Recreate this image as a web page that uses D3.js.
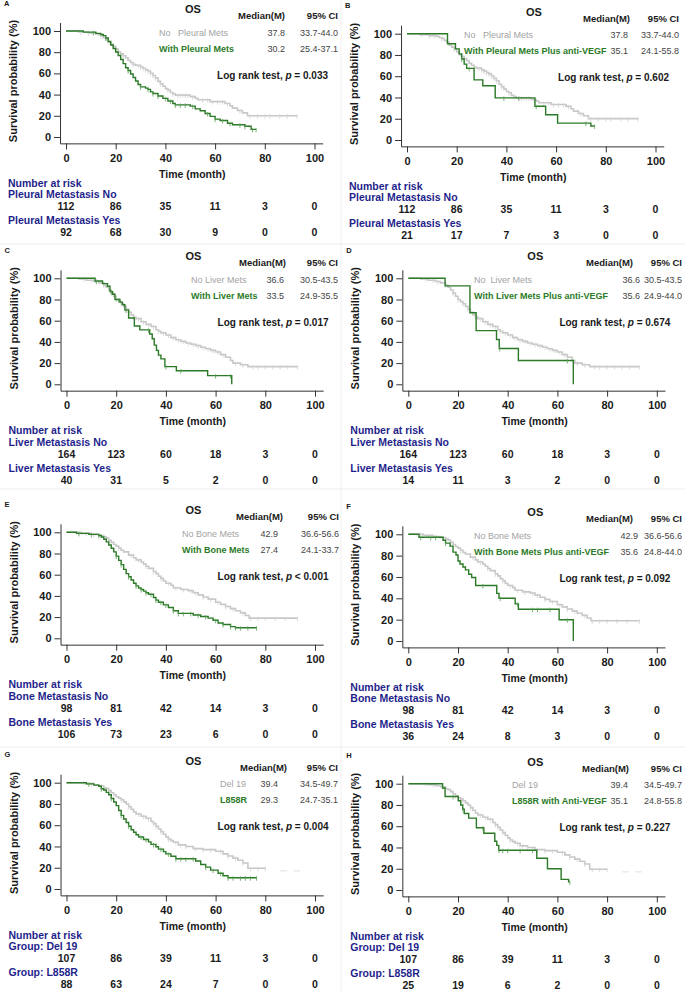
<!DOCTYPE html>
<html>
<head>
<meta charset="utf-8">
<script src="https://cdn.jsdelivr.net/npm/d3@7"></script>
<style>
  body { margin: 0; background: #fff; }
  svg text { font-family: "Liberation Sans", Arial, sans-serif; }
</style>
</head>
<body>
<div id="chart"></div>
<script>
(function() {
    "use strict";

    // ---- data ----
    const timeTicks = [0, 20, 40, 60, 80, 100];
    const survTicks = [0, 20, 40, 60, 80, 100];
    const panelLetters = ["A", "B", "C", "D", "E", "F", "G", "H"];

    const refLabels = ["No   Pleural Mets", "No   Pleural Mets", "No Liver Mets", "No  Liver Mets",
                       "No Bone Mets", "No Bone Mets", "Del 19", "Del 19"];
    const cmpLabels = ["With Pleural Mets", "With Pleural Mets Plus anti-VEGF", "With Liver Mets",
                       "With Liver Mets Plus anti-VEGF", "With Bone Mets", "With Bone Mets Plus anti-VEGF",
                       "L858R", "L858R with Anti-VEGF"];
    const refMedians = ["37.8", "37.8", "36.6", "36.6", "42.9", "42.9", "39.4", "39.4"];
    const refCIs = ["33.7-44.0", "33.7-44.0", "30.5-43.5", "30.5-43.5", "36.6-56.6", "36.6-56.6", "34.5-49.7", "34.5-49.7"];
    const cmpMedians = ["30.2", "35.1", "33.5", "35.6", "27.4", "35.6", "29.3", "35.1"];
    const cmpCIs = ["25.4-37.1", "24.1-55.8", "24.9-35.5", "24.9-44.0", "24.1-33.7", "24.8-44.0", "24.7-35.1", "24.8-55.8"];
    const pValues = ["= 0.033", "= 0.602", "= 0.017", "= 0.674", "< 0.001", "= 0.092", "= 0.004", "= 0.227"];

    const riskRefLabels = ["Pleural Metastasis No", "Pleural Metastasis No", "Liver Metastasis No", "Liver Metastasis No",
                           "Bone Metastasis No", "Bone Metastasis No", "Group: Del 19", "Group: Del 19"];
    const riskCmpLabels = ["Pleural Metastasis Yes", "Pleural Metastasis Yes", "Liver Metastasis Yes", "Liver Metastasis Yes",
                           "Bone Metastasis Yes", "Bone Metastasis Yes", "Group: L858R", "Group: L858R"];
    const riskRef = [[112, 86, 35, 11, 3, 0], [112, 86, 35, 11, 3, 0], [164, 123, 60, 18, 3, 0], [164, 123, 60, 18, 3, 0],
                     [98, 81, 42, 14, 3, 0], [98, 81, 42, 14, 3, 0], [107, 86, 39, 11, 3, 0], [107, 86, 39, 11, 3, 0]];
    const riskCmp = [[92, 68, 30, 9, 0, 0], [21, 17, 7, 3, 0, 0], [40, 31, 5, 2, 0, 0], [14, 11, 3, 2, 0, 0],
                     [106, 73, 23, 6, 0, 0], [36, 24, 8, 3, 0, 0], [88, 63, 24, 7, 0, 0], [25, 19, 6, 2, 0, 0]];

    // survival curves: [month, survival %] after each drop
    const noPleural = [[0,100],[5,99.1],[9,98.2],[12,97.3],[13,96.4],[14,95.5],[15,93.7],[16,91.9],[17,89.2],[18,87.4],
        [19,85.6],[20,82.9],[21,80.2],[22,78.4],[23,76.6],[24,74.8],[25,72.1],[26,70.3],[27,68.5],[28,67.6],[30,66.0],
        [31,64.8],[32,63.5],[33,62.2],[34,60.2],[35,58.0],[36,55.8],[37,52.5],[38,50.2],[39,47.9],[40,45.6],[41,44.4],
        [42,42.0],[43,40.8],[44,39.5],[50,38.1],[52,36.6],[53,35.1],[58,33.4],[64,31.6],[66,29.4],[67,27.2],[69,25.0],
        [71,22.8],[73,20.1],[93,20.1]];
    const noPleuralCens = [6,9,11,14,19,23,27,29,30,31,32,33,34,35,36,38,41,43,45,46,47,48,49,51,55,57,59,61,63,65,70,74,77,80,82,86,89,93];
    const withPleural = [[0,100],[7,98.9],[12,97.8],[14,96.7],[15,95.6],[16,93.4],[17,90.1],[18,86.8],[19,83.5],[20,80.2],
        [21,76.9],[22,73.1],[23,69.2],[24,65.4],[25,62.7],[26,59.4],[27,56.1],[28,52.8],[29,49.5],[30,47.3],[32,46.1],
        [33,44.9],[34,42.6],[35,41.0],[37,38.7],[39,36.4],[41,34.0],[43,31.6],[44,30.3],[50,29.1],[52,26.5],[54,24.8],
        [56,22.1],[58,19.5],[60,16.9],[62,15.6],[65,13.0],[67,11.5],[72,10.1],[74.5,7.2],[76.5,7.2]];
    const withPleuralCens = [11,16,25,30,33,35,37,40,42,44,46,48,51,57,60,63,66,70,72,75,76.5];
    const vegfPleural = [[0,100],[16.3,90.5],[19.5,85.7],[21,81.0],[22,76.2],[23,71.4],[24,67.4],[27,56.6],[30.5,51.0],
        [35.5,39.6],[51.5,31.7],[55.8,23.8],[60.6,15.9],[74,13.2],[75.5,13.2]];
    const vegfPleuralCens = [22,25,39,45,52,72,75.5];

    const noLiver = [[0,100],[5,99.4],[8,98.2],[11,97.0],[13,95.7],[15,93.3],[16,91.5],[17,89.0],[18,86.0],[19,83.0],
        [20,80.0],[21,78.0],[22,76.0],[23,73.5],[24,71.0],[25,68.0],[26,65.5],[27,63.5],[28,62.0],[30,59.0],[32,56.5],
        [34,54.5],[36,51.5],[37,50.0],[38,48.5],[40,46.5],[42,44.0],[44,42.0],[46,40.5],[48,39.0],[50,37.8],[52,36.5],
        [54,35.0],[56,33.5],[58,32.0],[60,30.5],[62,28.0],[64,25.5],[66,22.5],[67,20.0],[70,18.5],[73,16.7],[93,16.7]];
    const noLiverCens = [7,10,12,15,18,20,22,24,27,29,31,33,35,37,39,41,43,45,47,49,51,53,55,57,59,61,63,68,71,75,77,80,83,86,89,93];
    const withLiver = [[0,100],[11.5,97.5],[14.5,95.0],[16.5,92.5],[17.5,87.5],[18.5,85.0],[19.5,80.0],[21.5,77.5],
        [22.5,75.0],[23.5,70.0],[25,62.5],[27.3,55.0],[29.5,51.3],[33.5,47.5],[34.5,43.0],[35.3,37.0],[36.2,32.0],
        [37,27.5],[38,24.0],[39.6,16.7],[44.2,12.8],[56.8,8.2],[66.5,0]];
    const withLiverCens = [12,18,21,24,33,40,46,60,66];
    const vegfLiver = [[0,100],[14.8,92.9],[24.8,67.5],[27.3,50.6],[35.5,42.2],[36.6,33.8],[44.3,22.5],[66.4,0]];
    const vegfLiverCens = [36.8,64];

    const noBone = [[0,100],[6,99],[10,98],[13,97],[15,95.8],[16,94.5],[17,92.5],[18,90.5],[19,88.5],[20,87],[21,85],
        [22,83],[23,81.5],[25,78.5],[27,76],[28,74],[30,72],[31,70],[32,68],[33,66],[35,63],[36,61],[37,58.5],[38,56.5],
        [39,54],[40,52],[42,50],[43,47.5],[46,46],[49,45],[51,43],[53,41],[55,39],[57,37],[60,34],[62,32],[64,30],
        [66,28],[68,26],[70,24],[72,21.5],[73.5,19],[93,19]];
    const noBoneCens = [5,8,11,14,17,21,26,29,32,35,38,41,44,47,50,52,55,58,61,64,67,71,74,77,80,84,88,93];
    const withBone = [[0,100],[4,99],[9,98],[13,97],[14,95.5],[15,93.5],[16,91],[17,88],[18,85],[19,81.5],[20,77.5],
        [21,73.5],[22,69.5],[23,65],[24,61],[25,58],[26,55],[27,52],[28,49.5],[29,47.5],[30,46],[31,44.5],[32,43],
        [33,41.5],[35,38.5],[36,36],[37,34],[39,31.5],[41,29],[43,26],[45,23.5],[51,22],[54,20.5],[57,19],[59,17],
        [61,14.5],[63,13],[66,11],[68,10],[76.5,10]];
    const withBoneCens = [5,10,13,20,22,25,28,30,32,34,36,38,40,43,45,47,50,53,56,60,63,66,68,70,73,76.5];
    const vegfBone = [[0,100],[4.3,97.2],[14,94.4],[15,91.7],[16.8,88.9],[18,83.3],[19.2,80.6],[20,75.0],[20.8,72.2],
        [22,69.4],[23,66.7],[24.3,62.5],[25.5,59.5],[27.1,52.0],[35.6,44.6],[36.5,40.1],[43,34.8],[44.3,29.8],
        [60.7,19.9],[66.4,0]];
    const vegfBoneCens = [5,9,11,15,30,37,44,50,52,57,64];

    const del19 = [[0,100],[8,99.1],[11,98.1],[13,97.2],[15,95.3],[16,94.4],[17,92.5],[18,90.6],[19,88.7],[20,86.8],
        [21,85.5],[22,84.0],[23,82.0],[24,80.0],[25,77.5],[26,75.0],[27,72.5],[28,70.5],[30,68.5],[32,66.5],[34,63.5],
        [35,61.5],[36,59.0],[37,56.5],[38,54.0],[39,51.5],[40,49.0],[41,47.0],[42,45.5],[43,44.0],[45,41.5],[48,40.0],
        [51,38.0],[55,37.0],[60,35.5],[63,33.0],[65,31.0],[67,29.0],[69,27.0],[71,24.5],[73,19.5],[80,19.5]];
    const del19Cens = [7,10,14,19,22,25,29,31,33,35,36,38,41,44,46,48,52,55,58,62,65,68,71,74,77,80];
    const del19Tail = [[86,17],[94,17]];
    const l858r = [[0,100],[8,98.9],[11,97.7],[13,96.6],[14,94.3],[15,93.2],[16,90.9],[17,88.6],[18,85.2],[19,81.8],
        [20,78.4],[21,73.9],[22,69.3],[23,65.9],[24,62.5],[25,59.1],[26,55.7],[27,53.4],[28,51.1],[29,48.9],[31,46.6],
        [33,44.3],[34,42.0],[36,39.7],[37,37.5],[39,35.2],[40,33.0],[42,30.8],[44,28.5],[52,26.4],[54,23.0],[56,20.6],
        [58,17.8],[61,14.8],[63,12.5],[65,10.6],[76.5,10.6]];
    const l858rCens = [9,14,18,22,25,30,32,35,38,41,44,46,48,51,56,59,62,65,67,70,72,74,76.5];
    const vegfL858r = [[0,100],[13.8,96.0],[14.8,88.0],[20.1,84.0],[21.1,80.0],[21.9,76.0],[22.5,72.0],[24.3,67.6],
        [27.4,58.6],[30.4,53.4],[34.8,45.8],[35.6,42.0],[36.4,37.4],[51.7,29.9],[56,20.0],[61.5,10.0],[64.5,7.6],[65,7.6]];
    const vegfL858rCens = [18,22,30,36.5,38,40,45,50,65];

    const refCurves = [noPleural, noPleural, noLiver, noLiver, noBone, noBone, del19, del19];
    const refCens = [noPleuralCens, noPleuralCens, noLiverCens, noLiverCens, noBoneCens, noBoneCens, del19Cens, del19Cens];
    const cmpCurves = [withPleural, vegfPleural, withLiver, vegfLiver, withBone, vegfBone, l858r, vegfL858r];
    const cmpCens = [withPleuralCens, vegfPleuralCens, withLiverCens, vegfLiverCens, withBoneCens, vegfBoneCens, l858rCens, vegfL858rCens];

    // ---- layout ----
    const width = 685, height = 991;
    const grey = "#c8c8c8", greyTick = "#d2d2d2", greyText = "#a3a3a3";
    const green = "#2b7a28", greenTick = "#5a9e55", navy = "#1f1f8c", ink = "#1a1a1a";
    const layout = [
        {x0: 66,    y100: 31,    y0: 137,   lab: 159, med: 285, ci: 338, medHead: 285},
        {x0: 407,   y100: 33.7,  y0: 140,   lab: 464, med: 628, ci: 679, medHead: 630},
        {x0: 66.5,  y100: 278.3, y0: 384.3, lab: 191, med: 284, ci: 338, medHead: 286},
        {x0: 408.3, y100: 278.3, y0: 384.3, lab: 474, med: 640, ci: 682, medHead: 633},
        {x0: 66.5,  y100: 532.3, y0: 638.3, lab: 182, med: 278, ci: 339, medHead: 283},
        {x0: 408.3, y100: 534.3, y0: 641,   lab: 474, med: 638, ci: 682, medHead: 633},
        {x0: 66.5,  y100: 782.7, y0: 889,   lab: 220, med: 278, ci: 338, medHead: 287},
        {x0: 408.3, y100: 783.7, y0: 890,   lab: 512, med: 628, ci: 682, medHead: 629}
    ];

    const svg = d3.select("#chart").append("svg")
        .attr("width", width).attr("height", height);
    svg.append("rect").attr("width", width).attr("height", height).attr("fill", "#fff");

    // faint panel separators
    [244, 489, 747].forEach(function(yy) {
        svg.append("line").attr("x1", 0).attr("x2", width).attr("y1", yy).attr("y2", yy)
           .attr("stroke", "#ededed");
    });
    svg.append("line").attr("x1", 341).attr("x2", 341).attr("y1", 0).attr("y2", height).attr("stroke", "#f0f0f0");

    function survAt(curve, t) {
        let s = curve[0][1];
        for (let i = 0; i < curve.length; i++) {
            if (curve[i][0] <= t) s = curve[i][1];
        }
        return s;
    }

    function drawPanel(i) {
        const L = layout[i];
        const g = svg.append("g");
        const x = d3.scaleLinear().domain([0, 100]).range([L.x0, L.x0 + 248.5]);
        const y = d3.scaleLinear().domain([0, 100]).range([L.y0, L.y100]);
        const xa = x.copy().domain([-2.4, 103.3]).range([x(-2.4), x(103.3)]);
        const ya = y.copy().domain([-6, 108]).range([y(-6), y(108)]);

        // axes
        const gx = g.append("g").attr("transform", "translate(0," + y(-6) + ")");
        gx.call(d3.axisBottom(xa).tickValues(d3.range(10, 100, 20)).tickSize(3).tickSizeOuter(0).tickFormat(""));
        gx.call(d3.axisBottom(xa).tickValues(timeTicks).tickSize(6).tickSizeOuter(0).tickPadding(5));
        const gy = g.append("g").attr("transform", "translate(" + x(-2.4) + ",0)");
        gy.call(d3.axisLeft(ya).tickValues(d3.range(10, 100, 20)).tickSize(3).tickSizeOuter(0).tickFormat(""));
        gy.call(d3.axisLeft(ya).tickValues(survTicks).tickSize(6).tickSizeOuter(0).tickPadding(3));
        g.selectAll(".domain, .tick line").attr("stroke", "#333").attr("stroke-width", 1);
        g.selectAll(".tick text").attr("font-size", 11).attr("font-weight", "bold")
         .attr("fill", ink).attr("font-family", "Liberation Sans, Arial, sans-serif");

        g.append("text").attr("x", x(50) + 2).attr("y", L.y0 + 41)
         .attr("text-anchor", "middle").attr("font-size", 10.5).attr("font-weight", "bold")
         .attr("fill", ink).text("Time (month)");
        g.append("text")
         .attr("transform", "translate(" + (L.x0 - 49) + "," + (y(50) - 3) + ") rotate(-90)")
         .attr("text-anchor", "middle").attr("font-size", 11).attr("font-weight", "bold")
         .attr("fill", ink).text("Survival probability (%)");

        // curves
        const line = d3.line().x(function(d) { return x(d[0]); }).y(function(d) { return y(d[1]); })
            .curve(d3.curveStepAfter);
        function drawCurve(curve, cens, color, tickColor, w) {
            g.append("path").datum(curve).attr("d", line).attr("fill", "none")
             .attr("stroke", color).attr("stroke-width", w);
            g.selectAll(null).data(cens).enter().append("line")
             .attr("x1", function(d) { return x(d); }).attr("x2", function(d) { return x(d); })
             .attr("y1", function(d) { return y(survAt(curve, d)) - 1.5; })
             .attr("y2", function(d) { return y(survAt(curve, d)) + 3; })
             .attr("stroke", tickColor).attr("stroke-width", 0.8);
        }
        drawCurve(refCurves[i], refCens[i], grey, greyTick, 1.6);
        if (i >= 6) {
            g.append("path").datum(del19Tail).attr("d", line).attr("fill", "none")
             .attr("stroke", grey).attr("stroke-opacity", 0.45).attr("stroke-width", 1.2)
             .attr("stroke-dasharray", "7,6");
        }
        drawCurve(cmpCurves[i], cmpCens[i], green, greenTick, 1.4);

        // titles & legend
        g.append("text").attr("x", L.x0 - 62).attr("y", L.y100 - 25.5)
         .attr("font-size", 7.5).attr("font-weight", "bold").attr("fill", ink).text(panelLetters[i]);
        g.append("text").attr("x", L.x0 + 127).attr("y", L.y100 - 18)
         .attr("text-anchor", "middle").attr("font-size", 11).attr("font-weight", "bold")
         .attr("fill", ink).text("OS");
        g.append("text").attr("x", L.medHead).attr("y", L.y100 - 12).attr("text-anchor", "end")
         .attr("font-size", 9.5).attr("font-weight", "bold").attr("fill", ink).text("Median(M)");
        g.append("text").attr("x", L.ci).attr("y", L.y100 - 12).attr("text-anchor", "end")
         .attr("font-size", 9.5).attr("font-weight", "bold").attr("fill", ink).text("95% CI");

        const rows = [
            {label: refLabels[i], med: refMedians[i], ci: refCIs[i], color: greyText, weight: "normal", dy: 4.5},
            {label: cmpLabels[i], med: cmpMedians[i], ci: cmpCIs[i], color: green, weight: "bold", dy: 20.5}
        ];
        rows.forEach(function(r) {
            g.append("text").attr("x", L.lab).attr("y", L.y100 + r.dy).attr("font-size", 9)
             .attr("font-weight", r.weight).attr("fill", r.color).style("white-space", "pre").text(r.label);
            g.append("text").attr("x", L.med).attr("y", L.y100 + r.dy).attr("text-anchor", "end")
             .attr("font-size", 9).attr("fill", "#444").text(r.med);
            g.append("text").attr("x", L.ci).attr("y", L.y100 + r.dy).attr("text-anchor", "end")
             .attr("font-size", 9).attr("fill", "#444").text(r.ci);
        });

        const lr = g.append("text").attr("x", L.x0 + 262).attr("y", L.y100 + 47.5)
            .attr("text-anchor", "end").attr("font-size", 10).attr("font-weight", "bold").attr("fill", ink)
            .style("white-space", "pre");
        lr.append("tspan").text("Log rank test, ");
        lr.append("tspan").attr("font-style", "italic").text("p");
        lr.append("tspan").text(" " + pValues[i]);

        // number at risk
        const rx = L.x0 - 58;
        g.append("text").attr("x", rx).attr("y", L.y0 + 49.7).attr("font-size", 10.5)
         .attr("font-weight", "bold").attr("fill", navy).text("Number at risk");
        g.append("text").attr("x", rx).attr("y", L.y0 + 61.4).attr("font-size", 10.5)
         .attr("font-weight", "bold").attr("fill", navy).text(riskRefLabels[i]);
        g.append("text").attr("x", rx).attr("y", L.y0 + 87.4).attr("font-size", 10.5)
         .attr("font-weight", "bold").attr("fill", navy).text(riskCmpLabels[i]);
        [[riskRef[i], 73.2], [riskCmp[i], 99.2]].forEach(function(pair) {
            g.selectAll(null).data(pair[0]).enter().append("text")
             .attr("x", function(d, k) { return x(timeTicks[k]); })
             .attr("y", L.y0 + pair[1]).attr("text-anchor", "middle")
             .attr("font-size", 10.5).attr("font-weight", "bold").attr("fill", ink)
             .text(function(d) { return d; });
        });
    }

    for (let i = 0; i < layout.length; i++) drawPanel(i);
})();
</script>
</body>
</html>
